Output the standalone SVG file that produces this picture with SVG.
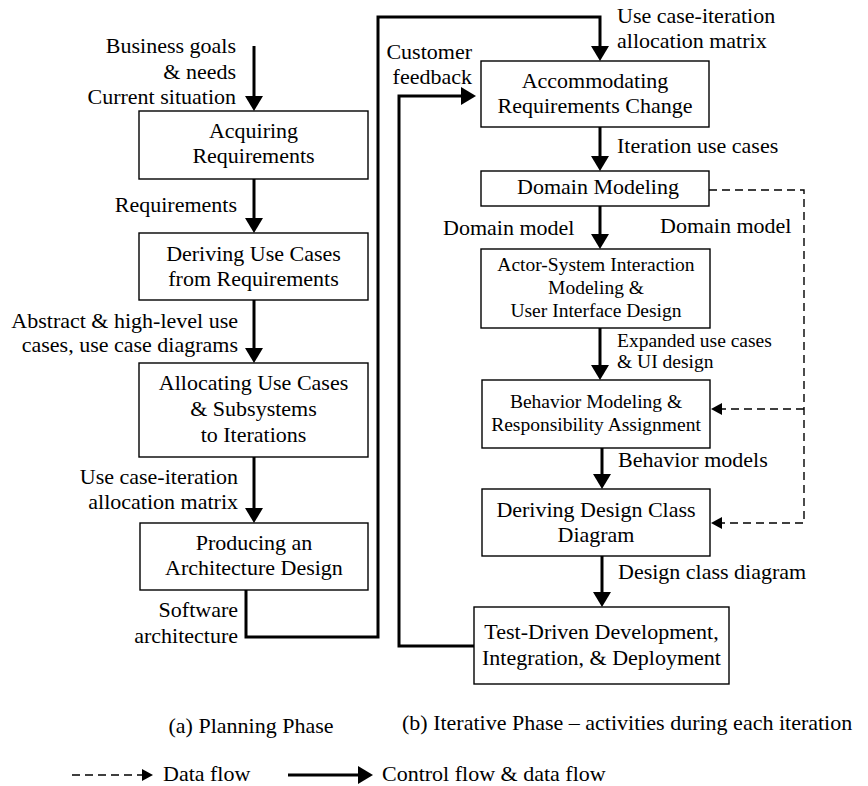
<svg xmlns="http://www.w3.org/2000/svg" width="868" height="786" viewBox="0 0 868 786">
  <style>
    text { font-family: "Liberation Serif", "Times New Roman", serif; font-size: 22px; fill: #000; }
    .box rect { fill: #fff; stroke: #000; stroke-width: 1.4; }
    .box text { text-anchor: middle; }
    .sm { font-size: 19.5px; }
    .lbl-r { text-anchor: end; }
    .lbl-l { text-anchor: start; }
    .flow { fill: none; stroke: #000; stroke-width: 3; stroke-linejoin: miter; }
    .data { fill: none; stroke: #000; stroke-width: 1.4; stroke-dasharray: 8 5; }
  </style>
  <defs>
    <marker id="solid-head" markerUnits="userSpaceOnUse" viewBox="0 0 15 18" markerWidth="15" markerHeight="18" refX="1" refY="9" orient="auto">
      <path d="M0,0 L15,9 L0,18 Z" fill="#000"/>
    </marker>
    <marker id="dash-head" markerUnits="userSpaceOnUse" viewBox="0 0 11 12" markerWidth="11" markerHeight="12" refX="1" refY="6" orient="auto">
      <path d="M0,0 L11,6 L0,12 Z" fill="#000"/>
    </marker>
  </defs>

  <!-- Planning phase activities -->
  <g id="acquiring" class="box">
    <rect x="139" y="111" width="229" height="68"/>
    <text x="253.5" y="138">Acquiring</text>
    <text x="253.5" y="163">Requirements</text>
  </g>
  <g id="deriving-use-cases" class="box">
    <rect x="139" y="233" width="229" height="67"/>
    <text x="253.5" y="261">Deriving Use Cases</text>
    <text x="253.5" y="286">from Requirements</text>
  </g>
  <g id="allocating" class="box">
    <rect x="139" y="363" width="229" height="94"/>
    <text x="253.5" y="390">Allocating Use Cases</text>
    <text x="253.5" y="416">&amp; Subsystems</text>
    <text x="253.5" y="442">to Iterations</text>
  </g>
  <g id="architecture" class="box">
    <rect x="140" y="523" width="228" height="67"/>
    <text x="254" y="550">Producing an</text>
    <text x="254" y="575">Architecture Design</text>
  </g>

  <!-- Iterative phase activities -->
  <g id="accommodating" class="box">
    <rect x="481" y="61" width="228" height="66"/>
    <text x="595" y="88">Accommodating</text>
    <text x="595" y="113">Requirements Change</text>
  </g>
  <g id="domain-modeling" class="box">
    <rect x="481" y="171" width="228" height="35"/>
    <text x="598" y="194">Domain Modeling</text>
  </g>
  <g id="actor-system" class="box">
    <rect x="481" y="249" width="229" height="79"/>
    <text class="sm" x="596" y="271">Actor-System Interaction</text>
    <text class="sm" x="596" y="294">Modeling &amp;</text>
    <text class="sm" x="596" y="317">User Interface Design</text>
  </g>
  <g id="behavior" class="box">
    <rect x="482" y="380" width="228" height="68"/>
    <text class="sm" x="596" y="408">Behavior Modeling &amp;</text>
    <text class="sm" x="596" y="431">Responsibility Assignment</text>
  </g>
  <g id="design-class" class="box">
    <rect x="482" y="489" width="228" height="67"/>
    <text x="596" y="517">Deriving Design Class</text>
    <text x="596" y="542">Diagram</text>
  </g>
  <g id="tdd" class="box">
    <rect x="474" y="607" width="255" height="77"/>
    <text x="601.5" y="639">Test-Driven Development,</text>
    <text x="601.5" y="665">Integration, &amp; Deployment</text>
  </g>

  <!-- Connectors -->
  <g id="connectors">
    <path class="flow" d="M254,46 V97" marker-end="url(#solid-head)"/>
    <path class="flow" d="M254,179 V219" marker-end="url(#solid-head)"/>
    <path class="flow" d="M254,300 V349" marker-end="url(#solid-head)"/>
    <path class="flow" d="M254,457 V509" marker-end="url(#solid-head)"/>
    <path class="flow" d="M246,590 V637 H378 V17 H600 V47" marker-end="url(#solid-head)"/>
    <path class="flow" d="M600,127 V157" marker-end="url(#solid-head)"/>
    <path class="flow" d="M600,206 V235" marker-end="url(#solid-head)"/>
    <path class="flow" d="M600,328 V366" marker-end="url(#solid-head)"/>
    <path class="flow" d="M602,448 V475" marker-end="url(#solid-head)"/>
    <path class="flow" d="M602,556 V593" marker-end="url(#solid-head)"/>
    <path class="flow" d="M474,646 H399 V96 H462" marker-end="url(#solid-head)"/>
    <path class="data" d="M709,190 H804 V523 H721" marker-end="url(#dash-head)"/>
    <path class="data" d="M804,409 H721" marker-end="url(#dash-head)"/>
  </g>

  <!-- Connector labels -->
  <g id="labels">
    <text class="lbl-r" x="236" y="53">Business goals</text>
    <text class="lbl-r" x="236" y="79">&amp; needs</text>
    <text class="lbl-r" x="236" y="104">Current situation</text>
    <text class="lbl-r" x="237" y="212">Requirements</text>
    <text class="lbl-r" x="238" y="328">Abstract &amp; high-level use</text>
    <text class="lbl-r" x="238" y="352">cases, use case diagrams</text>
    <text class="lbl-r" x="238" y="484">Use case-iteration</text>
    <text class="lbl-r" x="238" y="509">allocation matrix</text>
    <text class="lbl-r" x="238" y="617">Software</text>
    <text class="lbl-r" x="238" y="643">architecture</text>

    <text class="lbl-l" x="617" y="23">Use case-iteration</text>
    <text class="lbl-l" x="617" y="48">allocation matrix</text>
    <text class="lbl-r" x="472" y="59">Customer</text>
    <text class="lbl-r" x="472" y="84">feedback</text>
    <text class="lbl-l" x="617" y="153">Iteration use cases</text>
    <text class="lbl-l" x="443" y="235">Domain model</text>
    <text class="lbl-l" x="660" y="233">Domain model</text>
    <text class="lbl-l sm" x="617" y="347">Expanded use cases</text>
    <text class="lbl-l sm" x="617" y="368">&amp; UI design</text>
    <text class="lbl-l" x="618" y="467">Behavior models</text>
    <text class="lbl-l" x="618" y="579">Design class diagram</text>
  </g>

  <!-- Captions -->
  <g id="captions">
    <text x="251" y="733" text-anchor="middle">(a) Planning Phase</text>
    <text x="402" y="730">(b) Iterative Phase – activities during each iteration</text>
  </g>

  <!-- Legend -->
  <g id="legend">
    <path class="data" d="M72,775 H143" marker-end="url(#dash-head)"/>
    <text x="163" y="781">Data flow</text>
    <path class="flow" d="M288,775 H359" marker-end="url(#solid-head)"/>
    <text x="382" y="781">Control flow &amp; data flow</text>
  </g>
</svg>
